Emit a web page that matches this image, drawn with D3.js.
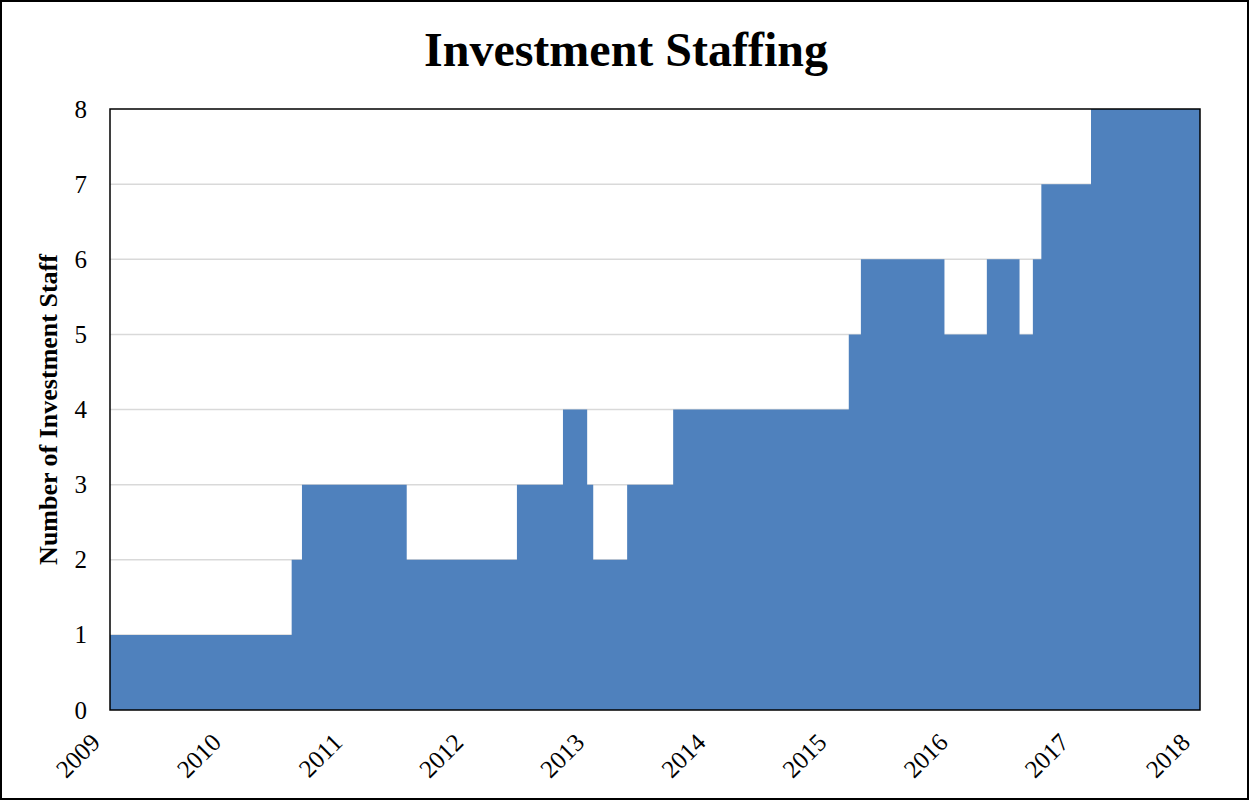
<!doctype html>
<html>
<head>
<meta charset="utf-8">
<style>
  body { margin: 0; background: #fff; }
  svg { display: block; font-family: "Liberation Serif", "Times New Roman", serif; }
  .grid line { stroke: #d9d9d9; stroke-width: 1.5; }
  .axis path, .axis line { display: none; }
  .axis text { font-size: 25px; fill: #000; font-family: "Liberation Serif", serif; }
</style>
<script src="https://d3js.org/d3.v7.min.js"></script>
<title>Investment Staffing</title>
</head>
<body>
<svg width="1250" height="801"></svg>
<script>
// date (fractional year) at which the headcount changes, and the new headcount
var changeDates = [2009.0, 2010.50, 2010.585, 2011.45, 2012.36, 2012.74, 2012.94, 2012.99,
                   2013.27, 2013.65, 2015.10, 2015.20, 2015.89, 2016.24, 2016.51, 2016.62,
                   2016.69, 2017.10];
var staffCounts = [1, 2, 3, 2, 3, 4, 3, 2, 3, 4, 5, 6, 5, 6, 5, 6, 7, 8];
var endDate = 2018;
var yearTicks = [2009, 2010, 2011, 2012, 2013, 2014, 2015, 2016, 2017, 2018];
var staffTicks = [0, 1, 2, 3, 4, 5, 6, 7, 8];

var svg = d3.select("svg"),
    plotLeft = 110, plotTop = 109, plotRight = 1200, plotBottom = 710;

var x = d3.scaleLinear().domain([2009, 2018]).range([plotLeft, plotRight]),
    y = d3.scaleLinear().domain([0, 8]).range([plotBottom, plotTop]);

var data = changeDates.map(function(d, i) { return {date: d, value: staffCounts[i]}; });
data.push({date: endDate, value: staffCounts[staffCounts.length - 1]});

// outer frame
svg.append("rect")
    .attr("x", 1).attr("y", 1)
    .attr("width", 1247).attr("height", 798)
    .attr("fill", "none").attr("stroke", "#000").attr("stroke-width", 2);

// title
svg.append("text")
    .attr("x", 626).attr("y", 66)
    .attr("text-anchor", "middle")
    .style("font-size", "48px")
    .style("font-weight", "bold")
    .text("Investment Staffing");

// gridlines
svg.append("g").attr("class", "grid")
    .selectAll("line")
    .data(staffTicks.slice(1, -1))
    .enter().append("line")
    .attr("x1", plotLeft).attr("x2", plotRight)
    .attr("y1", function(d) { return y(d); })
    .attr("y2", function(d) { return y(d); });

var area = d3.area()
    .curve(d3.curveStepAfter)
    .x(function(d) { return x(d.date); })
    .y0(y(0))
    .y1(function(d) { return y(d.value); });

svg.append("path")
    .datum(data)
    .attr("fill", "#4f81bd")
    .attr("d", area);

// plot frame
svg.append("rect")
    .attr("x", plotLeft).attr("y", plotTop)
    .attr("width", plotRight - plotLeft).attr("height", plotBottom - plotTop)
    .attr("fill", "none").attr("stroke", "#000").attr("stroke-width", 1.5);

// y axis
svg.append("g")
    .attr("class", "axis")
    .attr("transform", "translate(" + plotLeft + ",0)")
    .call(d3.axisLeft(y).tickValues(staffTicks).tickSize(0).tickPadding(23).tickFormat(d3.format("d")));

// x axis
var xAxis = svg.append("g")
    .attr("class", "axis")
    .attr("transform", "translate(0," + plotBottom + ")")
    .call(d3.axisBottom(x).tickValues(yearTicks).tickSize(0).tickFormat(d3.format("d")));

xAxis.selectAll("text")
    .attr("text-anchor", "end")
    .attr("dy", null)
    .attr("y", 0)
    .attr("transform", "translate(-9,34) rotate(-45)");

// y axis label
svg.append("text")
    .attr("transform", "translate(57," + ((plotTop + plotBottom) / 2) + ") rotate(-90)")
    .attr("text-anchor", "middle")
    .style("font-size", "26px")
    .style("font-weight", "bold")
    .text("Number of Investment Staff");
</script>
</body>
</html>
